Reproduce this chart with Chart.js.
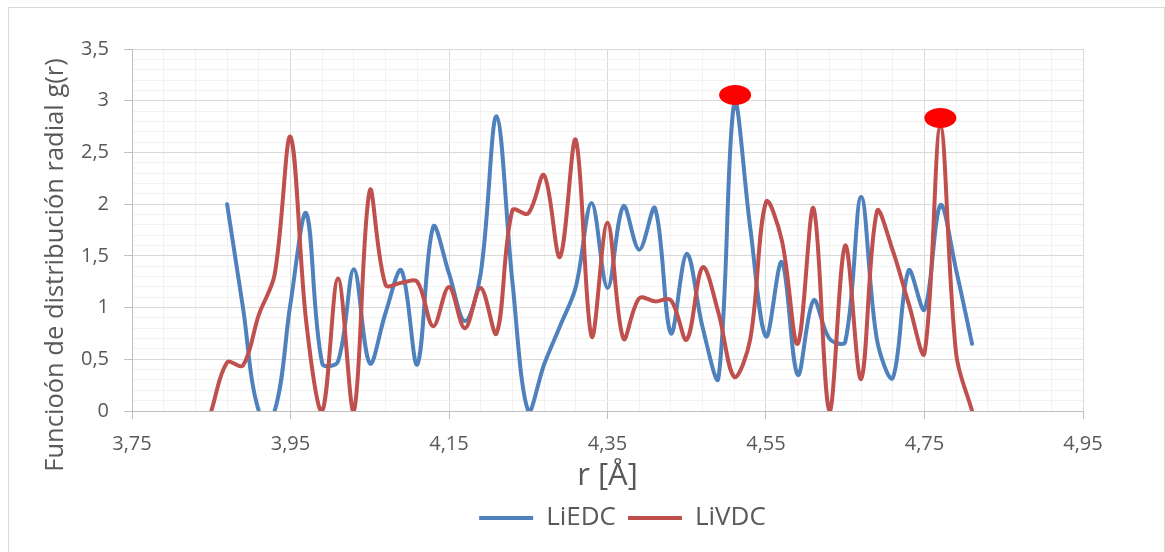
<!DOCTYPE html>
<html>
<head>
<meta charset="utf-8">
<script src="https://cdn.jsdelivr.net/npm/chart.js@4.4.1/dist/chart.umd.min.js"></script>
<style>
  body { margin: 0; background: #fff; }
  #wrap { position: relative; width: 1165px; height: 552px; overflow: hidden; }
  #frame { position: absolute; left: 8px; top: 7px; width: 1157px; height: 560px; border: 1px solid #d9d9d9; box-sizing: border-box; }
  canvas { position: absolute; left: 0; top: 0; }
</style>
</head>
<body>
<div id="wrap"><div id="frame"></div><canvas id="chart" width="1165" height="552"></canvas></div>
<script>
// r values (Å), one every 0.02
const rValues = [3.85, 3.87, 3.89, 3.91, 3.93, 3.95, 3.97, 3.99, 4.01, 4.03,
                 4.05, 4.07, 4.09, 4.11, 4.13, 4.15, 4.17, 4.19, 4.21, 4.23,
                 4.25, 4.27, 4.29, 4.31, 4.33, 4.35, 4.37, 4.39, 4.41, 4.43,
                 4.45, 4.47, 4.49, 4.51, 4.53, 4.55, 4.57, 4.59, 4.61, 4.63,
                 4.65, 4.67, 4.69, 4.71, 4.73, 4.75, 4.77, 4.79, 4.81];

// g(r) for each series (null = no point)
const liedc = [null, 2.00, 1.00, 0.00, 0.00, 1.04, 1.91, 0.46, 0.48, 1.37,
               0.46, 0.95, 1.36, 0.45, 1.78, 1.33, 0.87, 1.33, 2.85, 1.25,
               0.00, 0.45, 0.82, 1.20, 2.01, 1.19, 1.98, 1.56, 1.96, 0.75,
               1.52, 0.81, 0.32, 2.98, 1.78, 0.72, 1.44, 0.35, 1.07, 0.70,
               0.67, 2.07, 0.69, 0.32, 1.36, 0.98, 1.99, 1.36, 0.65];
const livdc = [0.00, 0.47, 0.44, 0.93, 1.32, 2.65, 0.85, 0.00, 1.28, 0.00,
               2.13, 1.22, 1.24, 1.25, 0.82, 1.20, 0.80, 1.19, 0.75, 1.94,
               1.91, 2.28, 1.49, 2.62, 0.72, 1.82, 0.70, 1.09, 1.06, 1.07,
               0.69, 1.39, 0.95, 0.33, 0.69, 2.02, 1.65, 0.65, 1.96, 0.00,
               1.60, 0.31, 1.93, 1.55, 1.04, 0.56, 2.75, 0.55, 0.00];

// axis ticks (labelled ones); minor grid lines split each interval in 5
const xMajorTicks = [3.75, 3.95, 4.15, 4.35, 4.55, 4.75, 4.95];
const yMajorTicks = [0, 0.5, 1, 1.5, 2, 2.5, 3, 3.5];
const minorParts = 5;

// red highlight marks at the two main peaks
const markR = [4.511, 4.770];
const markG = [3.055, 2.833];

const textColor = "#595959";
const fontFamily = "'Open Sans', sans-serif";

function toPoints(ys) {
  const pts = [];
  ys.forEach((y, i) => { if (y !== null) pts.push({ x: rValues[i], y: y }); });
  return pts;
}

function withMinor(major) {
  const out = [];
  for (let i = 0; i < major.length - 1; i++) {
    const step = (major[i + 1] - major[i]) / minorParts;
    for (let j = 0; j < minorParts; j++) {
      out.push({ value: +(major[i] + j * step).toFixed(4), isMajor: j === 0 });
    }
  }
  out.push({ value: major[major.length - 1], isMajor: true });
  return out;
}

const gridColor = c => (c.tick && c.tick.isMajor) ? "#d9d9d9" : "#f2f2f2";
const tickMarkColor = c => (c.tick && c.tick.isMajor) ? "#bfbfbf" : "rgba(0,0,0,0)";

const extras = {
  id: "extras",
  afterLayout(chart) {
    // Excel puts the legend a bit right of the plot centre
    chart.legend.left += 15;
    chart.legend.right += 15;
  },
  afterDatasetsDraw(chart) {
    const { ctx, scales } = chart;
    ctx.save();
    ctx.fillStyle = "#ff0000";
    markR.forEach((r, i) => {
      const px = scales.x.getPixelForValue(r);
      const py = scales.y.getPixelForValue(markG[i]);
      ctx.beginPath();
      ctx.ellipse(px, py, 16, 10, 0, 0, Math.PI * 2);
      ctx.fill();
    });
    ctx.restore();
  },
  afterDraw(chart) {
    const ctx = chart.ctx;
    ctx.save();
    ctx.translate(63, 265);
    ctx.rotate(-Math.PI / 2);
    ctx.font = "25.5px " + fontFamily;
    ctx.fillStyle = textColor;
    ctx.textAlign = "center";
    ctx.textBaseline = "alphabetic";
    ctx.fillText("Funcioón de distribución radial g(r)", 0, 0);
    ctx.restore();
  }
};

new Chart(document.getElementById("chart").getContext("2d"), {
  type: "scatter",
  data: {
    datasets: [
      {
        label: "LiEDC",
        data: toPoints(liedc),
        borderColor: "#4F81BD",
        backgroundColor: "#4F81BD",
        order: 1
      },
      {
        label: "LiVDC",
        data: toPoints(livdc),
        borderColor: "#C0504D",
        backgroundColor: "#C0504D",
        order: 0
      }
    ]
  },
  options: {
    responsive: false,
    animation: false,
    events: [],
    layout: { padding: { left: 0, right: 82, top: 49, bottom: 11 } },
    datasets: {
      scatter: {
        showLine: true,
        borderWidth: 4,
        pointRadius: 0,
        tension: 0.35,
        clip: 0,
        borderCapStyle: "round",
        borderJoinStyle: "round"
      }
    },
    elements: { line: { capBezierPoints: false } },
    scales: {
      x: {
        type: "linear",
        min: 3.75,
        max: 4.95,
        afterBuildTicks: s => { s.ticks = withMinor(xMajorTicks); },
        afterFit: s => { s.height = 82; },
        ticks: {
          autoSkip: false,
          maxRotation: 0,
          minRotation: 0,
          padding: 13,
          color: textColor,
          font: { family: fontFamily, size: 20 },
          callback: (v, i, ticks) => ticks[i].isMajor ? v.toFixed(2).replace(".", ",") : ""
        },
        grid: { color: gridColor, tickColor: tickMarkColor, tickLength: 8 },
        border: { color: "#bfbfbf" },
        title: {
          display: true,
          text: "r [Å]",
          color: textColor,
          font: { family: fontFamily, size: 31, lineHeight: 1 },
          padding: { top: 0, bottom: 1 }
        }
      },
      y: {
        type: "linear",
        min: 0,
        max: 3.5,
        afterBuildTicks: s => { s.ticks = withMinor(yMajorTicks); },
        afterFit: s => { s.width = 132; },
        ticks: {
          autoSkip: false,
          padding: 15,
          color: textColor,
          font: { family: fontFamily, size: 20 },
          callback: (v, i, ticks) => ticks[i].isMajor ? String(Math.round(v * 10) / 10).replace(".", ",") : ""
        },
        grid: { color: gridColor, tickColor: tickMarkColor, tickLength: 8 },
        border: { color: "#bfbfbf" }
      }
    },
    plugins: {
      legend: {
        position: "bottom",
        fullSize: false,
        labels: {
          usePointStyle: true,
          pointStyle: "line",
          pointStyleWidth: 54,
          padding: 12,
          color: textColor,
          font: { family: fontFamily, size: 26 },
          sort: (a, b) => a.datasetIndex - b.datasetIndex
        }
      },
      tooltip: { enabled: false }
    }
  },
  plugins: [extras]
});
</script>
</body>
</html>
